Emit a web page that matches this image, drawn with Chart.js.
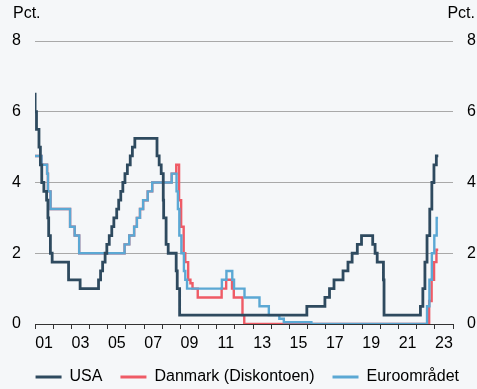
<!DOCTYPE html>
<html>
<head>
<meta charset="utf-8">
<script src="https://cdn.jsdelivr.net/npm/chart.js@4"></script>
<style>
  body { margin: 0; background: #f5f7f9; }
  canvas { display: block; }
</style>
</head>
<body>
<canvas id="rates" width="477" height="389"></canvas>
<script>
// policy rates, pct. - each date is the day a new rate takes effect
var usaDates = ['2001-01-01','2001-01-03','2001-01-31','2001-03-20','2001-04-18','2001-05-15','2001-06-27','2001-08-21',
  '2001-09-17','2001-10-02','2001-11-06','2001-12-11','2002-11-06','2003-06-25','2004-06-30','2004-08-10','2004-09-21',
  '2004-11-10','2004-12-14','2005-02-02','2005-03-22','2005-05-03','2005-06-30','2005-08-09','2005-09-20','2005-11-01',
  '2005-12-13','2006-01-31','2006-03-28','2006-05-10','2006-06-29','2007-09-18','2007-10-31','2007-12-11','2008-01-22',
  '2008-01-30','2008-03-18','2008-04-30','2008-10-08','2008-10-29','2008-12-16','2015-12-16','2016-12-14','2017-03-15',
  '2017-06-14','2017-12-13','2018-03-21','2018-06-13','2018-09-26','2018-12-19','2019-07-31','2019-09-18','2019-10-30',
  '2020-03-03','2020-03-15','2022-03-16','2022-05-04','2022-06-15','2022-07-27','2022-09-21','2022-11-02','2022-12-14',
  '2023-02-01','2023-03-10'];
var usaRates = [6.5,6.0,5.5,5.0,4.5,4.0,3.75,3.5,
  3.0,2.5,2.0,1.75,1.25,1.0,1.25,1.5,1.75,
  2.0,2.25,2.5,2.75,3.0,3.25,3.5,3.75,4.0,
  4.25,4.5,4.75,5.0,5.25,4.75,4.5,4.25,3.5,
  3.0,2.25,2.0,1.5,1.0,0.25,0.5,0.75,1.0,
  1.25,1.5,1.75,2.0,2.25,2.5,2.25,2.0,1.75,
  1.25,0.25,0.5,1.0,1.75,2.5,3.25,4.0,4.5,
  4.75,4.75];

var dkDates = ['2001-01-01','2001-05-11','2001-08-31','2001-09-18','2001-11-09','2002-12-06','2003-03-07','2003-06-06',
  '2005-12-06','2006-03-08','2006-06-15','2006-08-09','2006-10-11','2006-12-13','2007-03-14','2007-06-13','2008-07-09',
  '2008-10-09','2008-12-05','2009-01-16','2009-03-06','2009-04-08','2009-06-05','2009-07-20','2009-09-01','2009-12-15',
  '2011-04-08','2011-07-08','2011-11-04','2011-12-09','2012-06-01','2012-07-06','2022-09-09','2022-10-28','2022-12-16',
  '2023-02-03','2023-03-08'];
var dkRates = [4.75,4.5,4.25,3.75,3.25,2.75,2.5,2.0,
  2.25,2.5,2.75,3.0,3.25,3.5,3.75,4.0,4.25,
  4.5,3.5,2.75,2.0,1.75,1.25,1.15,1.0,0.75,
  1.0,1.25,1.0,0.75,0.25,0.0,0.65,1.25,1.75,
  2.1,2.1];

var euDates = ['2001-01-01','2001-05-11','2001-08-31','2001-09-18','2001-11-09','2002-12-06','2003-03-07','2003-06-06',
  '2005-12-06','2006-03-08','2006-06-15','2006-08-09','2006-10-11','2006-12-13','2007-03-14','2007-06-13','2008-07-09',
  '2008-10-15','2008-11-12','2008-12-10','2009-01-21','2009-03-11','2009-04-08','2009-05-13','2011-04-13','2011-07-13',
  '2011-11-09','2011-12-14','2012-07-11','2013-05-08','2013-11-13','2014-06-11','2014-09-10','2016-03-16','2022-07-27',
  '2022-09-14','2022-11-02','2022-12-21','2023-02-08','2023-03-05'];
var euRates = [4.75,4.5,4.25,3.75,3.25,2.75,2.5,2.0,
  2.25,2.5,2.75,3.0,3.25,3.5,3.75,4.0,4.25,
  3.75,3.25,2.5,2.0,1.5,1.25,1.0,1.25,1.5,
  1.25,1.0,0.75,0.5,0.25,0.15,0.05,0.0,0.5,
  1.25,2.0,2.5,3.0,3.0];

var seriesNames = ['USA', 'Danmark (Diskontoen)', 'Euroområdet'];
var yTicks = [0, 2, 4, 6, 8];
var firstYear = 2001, lastYear = 2024;

function toYear(d) {
  var p = d.split('-').map(Number);
  return p[0] + (p[1] - 1) / 12 + (p[2] - 1) / 365;
}
function points(dates, rates) {
  return dates.map(function (d, i) { return { x: toYear(d), y: rates[i] }; });
}

var font = { family: '"Liberation Sans", Arial, sans-serif', size: 16 };

var pctLabels = {
  id: 'pctLabels',
  afterDraw: function (chart) {
    var ctx = chart.ctx;
    ctx.save();
    ctx.font = '16px "Liberation Sans", Arial, sans-serif';
    ctx.fillStyle = '#000';
    ctx.textBaseline = 'alphabetic';
    ctx.textAlign = 'left';
    ctx.fillText('Pct.', 13, 18);
    ctx.textAlign = 'right';
    ctx.fillText('Pct.', 475, 18);
    ctx.restore();
  }
};

var xTicks = [];
for (var v = firstYear; v <= lastYear; v += 0.5) xTicks.push(v);

var chart = new Chart(document.getElementById('rates').getContext('2d'), {
  type: 'line',
  data: {
    datasets: [
      { label: seriesNames[0], data: points(usaDates, usaRates), borderColor: '#2e4a5f', backgroundColor: '#2e4a5f', borderWidth: 2.8, order: 0 },
      { label: seriesNames[1], data: points(dkDates, dkRates), borderColor: '#ef5b66', backgroundColor: '#ef5b66', borderWidth: 2.4, order: 2 },
      { label: seriesNames[2], data: points(euDates, euRates), borderColor: '#5ba8d4', backgroundColor: '#5ba8d4', borderWidth: 2.4, order: 1 }
    ]
  },
  options: {
    responsive: false,
    animation: false,
    layout: { padding: { top: 41, left: 0, right: 0, bottom: 0 } },
    elements: { point: { radius: 0 }, line: { stepped: true, fill: false } },
    plugins: {
      tooltip: { enabled: false },
      legend: {
        position: 'bottom',
        align: 'end',
        maxHeight: 38,
        labels: {
          font: font,
          color: '#000',
          boxWidth: 26,
          boxHeight: 3,
          padding: 18,
          sort: function (a, b) { return a.datasetIndex - b.datasetIndex; },
          generateLabels: function (chart) {
            var items = Chart.defaults.plugins.legend.labels.generateLabels(chart);
            items.forEach(function (it) { it.lineWidth = 0; it.fillStyle = it.strokeStyle; });
            return items;
          }
        }
      }
    },
    scales: {
      x: {
        type: 'linear',
        min: firstYear,
        max: lastYear,
        afterBuildTicks: function (scale) {
          scale.ticks = xTicks.map(function (t) { return { value: t }; });
        },
        afterFit: function (scale) { scale.height = 27; },
        ticks: {
          autoSkip: false,
          maxRotation: 0,
          padding: 5,
          font: font,
          color: '#000',
          callback: function (val) {
            var yr = Math.floor(val);
            if (val - yr === 0.5 && yr % 2 === 1) return String(yr % 100).padStart(2, '0');
            return '';
          }
        },
        grid: {
          drawOnChartArea: false,
          tickLength: 5,
          color: function (c) { return c.tick && c.tick.value % 1 === 0 ? '#333' : 'rgba(0,0,0,0)'; }
        },
        border: { display: true, color: '#333', width: 1 }
      },
      y: {
        position: 'left',
        min: 0,
        max: 8,
        afterBuildTicks: function (scale) {
          scale.ticks = yTicks.map(function (t) { return { value: t }; });
        },
        afterFit: function (scale) { scale.width = 35; },
        ticks: { padding: 14, font: font, color: '#000' },
        grid: {
          drawTicks: false,
          color: function (c) { return c.tick && c.tick.value === 0 ? 'rgba(0,0,0,0)' : '#a9a9a9'; }
        },
        border: { display: false }
      },
      y2: {
        position: 'right',
        min: 0,
        max: 8,
        afterBuildTicks: function (scale) {
          scale.ticks = yTicks.map(function (t) { return { value: t }; });
        },
        afterFit: function (scale) { scale.width = 24; },
        ticks: { padding: 14, font: font, color: '#000' },
        grid: { display: false, drawTicks: false },
        border: { display: false }
      }
    }
  },
  plugins: [pctLabels]
});
</script>
</body>
</html>
